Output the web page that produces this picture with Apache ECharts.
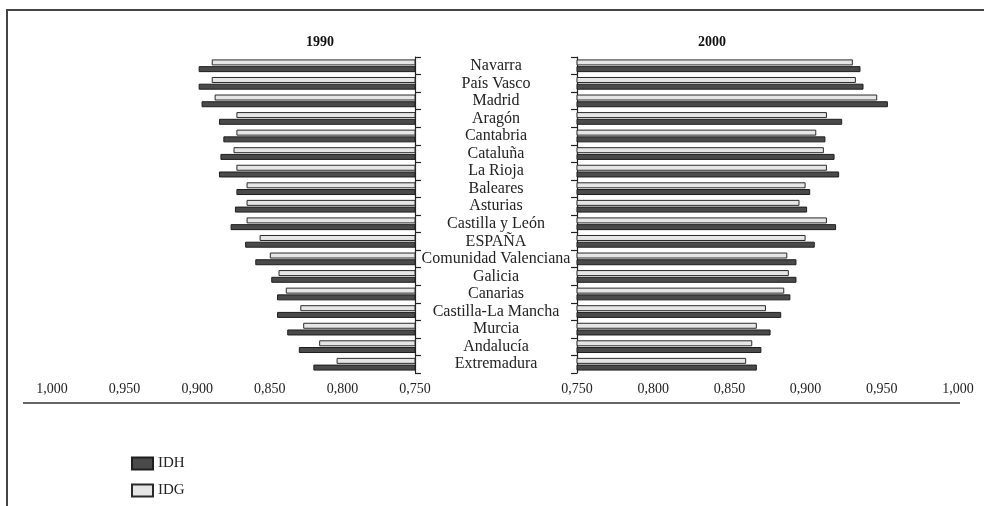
<!DOCTYPE html>
<html>
<head>
<meta charset="utf-8">
<script src="https://cdn.jsdelivr.net/npm/echarts@6/dist/echarts.min.js"></script>
<style>
html,body{margin:0;padding:0;background:#fff;}
#chart{width:984px;height:506px;}
</style>
</head>
<body>
<div id="chart"></div>
<script>
const regions = ['Navarra','País Vasco','Madrid','Aragón','Cantabria','Cataluña','La Rioja','Baleares','Asturias','Castilla y León','ESPAÑA','Comunidad Valenciana','Galicia','Canarias','Castilla-La Mancha','Murcia','Andalucía','Extremadura'];
const idh1990 = [0.899,0.899,0.897,0.885,0.882,0.884,0.885,0.873,0.874,0.877,0.867,0.860,0.849,0.845,0.845,0.838,0.830,0.820];
const idg1990 = [0.890,0.890,0.888,0.873,0.873,0.875,0.873,0.866,0.866,0.866,0.857,0.850,0.844,0.839,0.829,0.827,0.816,0.804];
const idh2000 = [0.936,0.938,0.954,0.924,0.913,0.919,0.922,0.903,0.901,0.920,0.906,0.894,0.894,0.890,0.884,0.877,0.871,0.868];
const idg2000 = [0.931,0.933,0.947,0.914,0.907,0.912,0.914,0.900,0.896,0.914,0.900,0.888,0.889,0.886,0.874,0.868,0.865,0.861];
const panelTitles = ['1990','2000'];
const seriesNames = ['IDH','IDG'];

const FONT = '"Liberation Serif", "DejaVu Serif", serif';
const chart = echarts.init(document.getElementById('chart'));
const fmt = v => v.toFixed(3).replace('.', ',');
const darkStyle = {color:'#4a4a4a', borderColor:'#1e1e1e', borderWidth:1};
const lightStyle = {color:'#e6e6e6', borderColor:'#2a2a2a', borderWidth:1};

const xAxisCommon = {
  type:'value', min:0.75, max:1.0, interval:0.05,
  axisLine:{show:false}, axisTick:{show:false}, splitLine:{show:false},
  axisLabel:{formatter:fmt, fontFamily:FONT, fontSize:14, color:'#222', margin:9}
};
const yAxisCommon = {
  type:'category', data:regions, inverse:true,
  axisLine:{show:true, lineStyle:{color:'#222', width:1.2}},
  axisTick:{show:true, length:6, interval:0, lineStyle:{color:'#222', width:1.2}},
  splitLine:{show:false}
};

chart.setOption({
  animation:false,
  grid:[
    {left:52, width:363, top:57, height:316},
    {left:577, width:381, top:57, height:316}
  ],
  xAxis:[
    Object.assign({gridIndex:0, inverse:true}, xAxisCommon),
    Object.assign({gridIndex:1}, xAxisCommon)
  ],
  yAxis:[
    Object.assign({gridIndex:0, position:'right', axisLabel:{show:false}}, yAxisCommon),
    Object.assign({gridIndex:1, position:'left', axisLabel:{show:true, interval:0, fontFamily:FONT, fontSize:16, color:'#222', align:'center', margin:81}}, yAxisCommon)
  ],
  legend:{
    orient:'vertical', left:126, top:451, itemWidth:21, itemHeight:12, itemGap:12,
    icon:'rect',
    data:seriesNames,
    textStyle:{fontFamily:FONT, fontSize:15, color:'#222'}
  },
  series:[
    {name:seriesNames[1], type:'bar', xAxisIndex:0, yAxisIndex:0, data:idg1990, barWidth:6, barGap:'12%', itemStyle:lightStyle},
    {name:seriesNames[0], type:'bar', xAxisIndex:0, yAxisIndex:0, data:idh1990, barWidth:6, barGap:'12%', itemStyle:darkStyle},
    {name:seriesNames[1], type:'bar', xAxisIndex:1, yAxisIndex:1, data:idg2000, barWidth:6, barGap:'12%', itemStyle:lightStyle},
    {name:seriesNames[0], type:'bar', xAxisIndex:1, yAxisIndex:1, data:idh2000, barWidth:6, barGap:'12%', itemStyle:darkStyle}
  ],
  graphic:[
    {type:'text', x:320, y:35, style:{text:panelTitles[0], font:'bold 14px '+FONT, fill:'#111', textAlign:'center'}},
    {type:'text', x:712, y:35, style:{text:panelTitles[1], font:'bold 14px '+FONT, fill:'#111', textAlign:'center'}},
    {type:'line', shape:{x1:23, y1:403, x2:960, y2:403}, style:{stroke:'#333', lineWidth:1.5}},
    {type:'line', shape:{x1:6, y1:10, x2:984, y2:10}, style:{stroke:'#444', lineWidth:2}},
    {type:'line', shape:{x1:7, y1:10, x2:7, y2:506}, style:{stroke:'#444', lineWidth:2}}
  ]
});
</script>
</body>
</html>
